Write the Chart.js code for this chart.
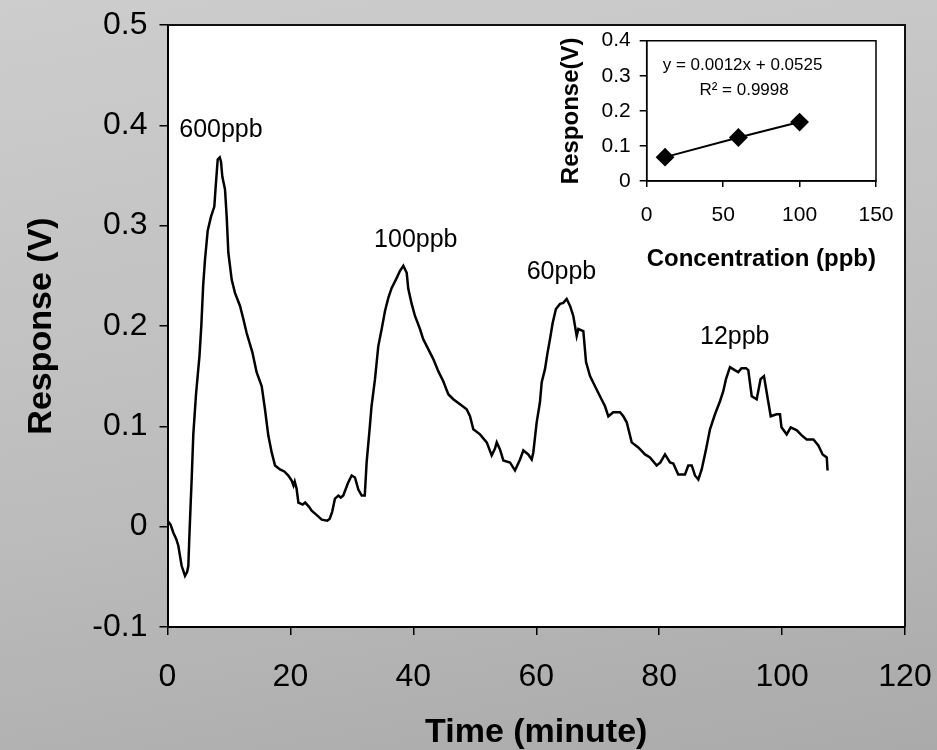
<!DOCTYPE html>
<html>
<head>
<meta charset="utf-8">
<script src="https://cdn.jsdelivr.net/npm/chart.js@4.4.0/dist/chart.umd.min.js"></script>
<style>
html, body { margin: 0; padding: 0; }
body { width: 937px; height: 750px; overflow: hidden;
  background: linear-gradient(170deg, #cdcdcd 0%, #bdbdbd 55%, #aaaaaa 100%); }
#wrap { position: relative; width: 937px; height: 750px; }
#mainChart { position: absolute; left: 0; top: 0; }
#insetChart { position: absolute; left: 540px; top: 28px; }
</style>
</head>
<body>
<div id="wrap">
  <canvas id="mainChart" width="937" height="750"></canvas>
  <canvas id="insetChart" width="360" height="244"></canvas>
</div>
<script>
var FONT = "'Liberation Sans', Arial, sans-serif";

// main trace: time (minute) vs response (V)
var timeMin = [0, 0.5, 0.95, 1.4, 1.76, 2.3, 2.85, 3.2, 3.39, 3.55, 3.75, 3.95, 4.2, 4.64, 5.2, 5.5, 5.8, 6.1, 6.54, 7.08, 7.4, 7.62, 7.84, 8.17, 8.5, 8.7, 8.92, 9.36, 9.63, 9.9, 10.45, 10.98, 11.8, 12.34, 12.88, 13.8, 14.5, 15.33, 15.86, 16.4, 16.95, 17.5, 18.3, 19.0, 19.66, 20.2, 20.5, 20.7, 21.0, 21.3, 22.0, 22.4, 23.0, 23.46, 24.2, 25.1, 26.0, 26.4, 26.8, 27.25, 27.8, 28.2, 28.6, 29.4, 29.97, 30.5, 31.05, 31.6, 32.1, 32.4, 32.84, 33.2, 33.76, 34.3, 34.85, 35.39, 35.93, 36.48, 37.3, 37.83, 38.37, 38.92, 39.18, 39.73, 40.27, 41.08, 41.6, 42.43, 43.25, 44.06, 44.87, 45.69, 46.5, 47.6, 48.68, 49.22, 49.76, 50.85, 51.94, 52.75, 53.3, 53.57, 54.1, 54.64, 55.73, 56.54, 57.36, 57.9, 58.7, 59.26, 59.52, 60.07, 60.6, 60.89, 61.42, 61.8, 62.24, 62.67, 63.2, 63.87, 64.4, 64.95, 65.5, 66.03, 66.58, 66.85, 67.66, 68.1, 68.75, 69.56, 70.37, 71.19, 71.73, 72.54, 73.63, 74.17, 74.72, 75.53, 76.6, 77.7, 78.5, 79.6, 80.2, 80.95, 81.76, 82.3, 83.1, 84.2, 84.74, 85.3, 85.83, 86.37, 86.92, 87.62, 88.27, 89.08, 89.9, 90.43, 90.87, 91.52, 92.3, 92.87, 93.4, 94.13, 94.5, 95.06, 95.87, 96.5, 97.05, 97.6, 98.15, 99.1, 99.66, 99.9, 100.75, 101.4, 102.4, 103.2, 104.0, 105.1, 105.9, 106.6, 107.27, 107.4];
var responseV = [0.006, 0.002, -0.006, -0.012, -0.019, -0.039, -0.049, -0.045, -0.039, -0.011, 0.02, 0.05, 0.092, 0.132, 0.17, 0.2, 0.24, 0.266, 0.295, 0.309, 0.315, 0.319, 0.339, 0.366, 0.368, 0.364, 0.349, 0.336, 0.309, 0.273, 0.246, 0.233, 0.22, 0.207, 0.193, 0.174, 0.154, 0.14, 0.117, 0.091, 0.074, 0.061, 0.057, 0.055, 0.051, 0.046, 0.041, 0.045, 0.038, 0.024, 0.022, 0.024, 0.02, 0.016, 0.012, 0.007, 0.006, 0.008, 0.015, 0.028, 0.031, 0.029, 0.031, 0.044, 0.051, 0.049, 0.037, 0.031, 0.031, 0.064, 0.094, 0.12, 0.147, 0.18, 0.197, 0.215, 0.228, 0.238, 0.248, 0.255, 0.26, 0.253, 0.237, 0.222, 0.21, 0.197, 0.187, 0.177, 0.167, 0.155, 0.145, 0.132, 0.127, 0.122, 0.117, 0.11, 0.097, 0.092, 0.084, 0.071, 0.078, 0.084, 0.077, 0.066, 0.064, 0.056, 0.067, 0.076, 0.072, 0.067, 0.074, 0.104, 0.124, 0.144, 0.157, 0.172, 0.187, 0.203, 0.217, 0.222, 0.223, 0.227, 0.22, 0.21, 0.19, 0.197, 0.195, 0.164, 0.15, 0.14, 0.13, 0.12, 0.11, 0.114, 0.114, 0.11, 0.104, 0.084, 0.079, 0.072, 0.069, 0.061, 0.064, 0.072, 0.064, 0.063, 0.052, 0.052, 0.061, 0.061, 0.051, 0.047, 0.057, 0.077, 0.097, 0.112, 0.125, 0.135, 0.147, 0.159, 0.156, 0.154, 0.158, 0.158, 0.156, 0.13, 0.127, 0.147, 0.15, 0.13, 0.11, 0.112, 0.112, 0.099, 0.092, 0.099, 0.096, 0.091, 0.087, 0.087, 0.081, 0.072, 0.069, 0.056];
var xTickVals = [0, 20, 40, 60, 80, 100, 120];
var yTickVals = [-0.1, 0, 0.1, 0.2, 0.3, 0.4, 0.5];

// peak labels, placed in data units
var peakNames = ['600ppb', '100ppb', '60ppb', '12ppb'];
var peakLabelTime = [8.7, 40.4, 64.1, 92.3];
var peakLabelResp = [0.388, 0.279, 0.247, 0.182];

// inset calibration
var insetConc = [12, 60, 100];
var insetResp = [0.068, 0.124, 0.168];
var insetXTicks = [0, 50, 100, 150];
var insetYTicks = [0, 0.1, 0.2, 0.3, 0.4];
var fitLines = ['y = 0.0012x + 0.0525', 'R\u00b2 = 0.9998'];
var fitLineConc = [62.7, 63.7];
var fitLineResp = [0.316, 0.245];


var plotFrame = {
  id: 'plotFrame',
  beforeDraw: function (chart, args, opts) {
    if (!opts.fill) return;
    var a = chart.chartArea, ctx = chart.ctx;
    ctx.save();
    ctx.fillStyle = opts.fill;
    ctx.fillRect(a.left, a.top, a.right - a.left, a.bottom - a.top);
    ctx.restore();
  },
  afterDraw: function (chart, args, opts) {
    var a = chart.chartArea, ctx = chart.ctx;
    ctx.save();
    ctx.strokeStyle = opts.color || '#000';
    ctx.lineWidth = opts.width || 2;
    ctx.beginPath();
    if (opts.all) {
      ctx.rect(a.left, a.top, a.right - a.left, a.bottom - a.top);
    } else {
      ctx.moveTo(a.left, a.top);
      ctx.lineTo(a.right, a.top);
      ctx.lineTo(a.right, a.bottom);
    }
    ctx.stroke();
    ctx.restore();
  }
};

var textMarks = {
  id: 'textMarks',
  afterDatasetsDraw: function (chart, args, opts) {
    var ctx = chart.ctx, xs = chart.scales.x, ys = chart.scales.y;
    ctx.save();
    ctx.font = opts.font;
    ctx.fillStyle = '#000';
    ctx.textAlign = 'center';
    ctx.textBaseline = 'alphabetic';
    for (var i = 0; i < opts.texts.length; i++) {
      ctx.fillText(opts.texts[i], xs.getPixelForValue(opts.xs[i]), ys.getPixelForValue(opts.ys[i]));
    }
    ctx.restore();
  }
};

function setTicks(vals) {
  return function (scale) {
    scale.ticks = vals.map(function (v) { return { value: v }; });
  };
}

// pin the scale box and drop the label overflow padding so the plot area sits where the picture has it
function fixBox(w, h) {
  return function (s) {
    if (w) s.width = w;
    if (h) s.height = h;
    s.paddingLeft = 0; s.paddingRight = 0; s.paddingTop = 0; s.paddingBottom = 0;
  };
}

function toPoints(xArr, yArr) {
  var pts = [];
  for (var i = 0; i < xArr.length; i++) pts.push({ x: xArr[i], y: yArr[i] });
  return pts;
}

new Chart(document.getElementById('mainChart'), {
  type: 'line',
  data: {
    datasets: [{
      data: toPoints(timeMin, responseV),
      borderColor: '#000',
      borderWidth: 2.5,
      pointRadius: 0,
      tension: 0,
      fill: false
    }]
  },
  options: {
    responsive: false,
    animation: false,
    devicePixelRatio: 1,
    layout: { padding: { left: 0, top: 25, right: 32, bottom: 0 } },
    plugins: {
      legend: { display: false },
      tooltip: { enabled: false },
      plotFrame: { fill: '#fff', color: '#111', width: 2 },
      textMarks: { font: '25px ' + FONT, texts: peakNames, xs: peakLabelTime, ys: peakLabelResp }
    },
    scales: {
      x: {
        type: 'linear', min: 0, max: 120,
        afterBuildTicks: setTicks(xTickVals),
        afterFit: fixBox(0, 123),
        ticks: { color: '#000', font: { family: FONT, size: 32 }, padding: 23, maxRotation: 0,
          callback: function (v) { return String(v); } },
        grid: { drawOnChartArea: false, color: '#000', lineWidth: 1.5, tickLength: 8 },
        border: { color: '#000', width: 2 },
        title: { display: true, text: 'Time (minute)', color: '#000',
          font: { family: FONT, size: 34, weight: 'bold', lineHeight: 1 }, padding: { top: 0, bottom: 0 } }
      },
      y: {
        type: 'linear', min: -0.1, max: 0.5,
        afterBuildTicks: setTicks(yTickVals),
        afterFit: fixBox(167.5, 0),
        ticks: { color: '#000', font: { family: FONT, size: 32 }, padding: 12,
          callback: function (v) { return String(v); } },
        grid: { drawOnChartArea: false, color: '#000', lineWidth: 1.5, tickLength: 8 },
        border: { color: '#000', width: 2 },
        title: { display: true, text: 'Response (V)', color: '#000',
          font: { family: FONT, size: 34, weight: 'bold', lineHeight: 1 }, padding: { top: 25, bottom: 0 } }
      }
    }
  },
  plugins: [plotFrame, textMarks]
});

new Chart(document.getElementById('insetChart'), {
  type: 'line',
  data: {
    datasets: [{
      data: toPoints(insetConc, insetResp),
      borderColor: '#000',
      borderWidth: 2,
      pointStyle: 'rectRot',
      pointRadius: 8,
      pointBackgroundColor: '#000',
      pointBorderColor: '#000',
      tension: 0,
      fill: false
    }]
  },
  options: {
    responsive: false,
    animation: false,
    devicePixelRatio: 1,
    layout: { padding: { left: 0, top: 12.7, right: 24, bottom: 0 } },
    plugins: {
      legend: { display: false },
      tooltip: { enabled: false },
      plotFrame: { all: true, color: '#000', width: 1.5 },
      textMarks: { font: '17px ' + FONT, texts: fitLines, xs: fitLineConc, ys: fitLineResp }
    },
    scales: {
      x: {
        type: 'linear', min: 0, max: 150,
        afterBuildTicks: setTicks(insetXTicks),
        afterFit: fixBox(0, 91),
        ticks: { color: '#000', font: { family: FONT, size: 21 }, padding: 16, maxRotation: 0,
          callback: function (v) { return String(v); } },
        grid: { drawOnChartArea: false, color: '#000', lineWidth: 1.5, tickLength: 6 },
        border: { color: '#000', width: 1.5 },
        title: { display: true, text: 'Concentration (ppb)', color: '#000',
          font: { family: FONT, size: 24, weight: 'bold', lineHeight: 1 }, padding: { top: 0, bottom: 1 } }
      },
      y: {
        type: 'linear', min: 0, max: 0.4,
        afterBuildTicks: setTicks(insetYTicks),
        afterFit: fixBox(106.7, 0),
        ticks: { color: '#000', font: { family: FONT, size: 21 }, padding: 9,
          callback: function (v) { return String(v); } },
        grid: { drawOnChartArea: false, color: '#000', lineWidth: 1.5, tickLength: 7 },
        border: { color: '#000', width: 1.5 },
        title: { display: true, text: 'Response(V)', color: '#000',
          font: { family: FONT, size: 24, weight: 'bold', lineHeight: 1 }, padding: { top: 19, bottom: 0 } }
      }
    }
  },
  plugins: [plotFrame, textMarks]
});
</script>
</body>
</html>
